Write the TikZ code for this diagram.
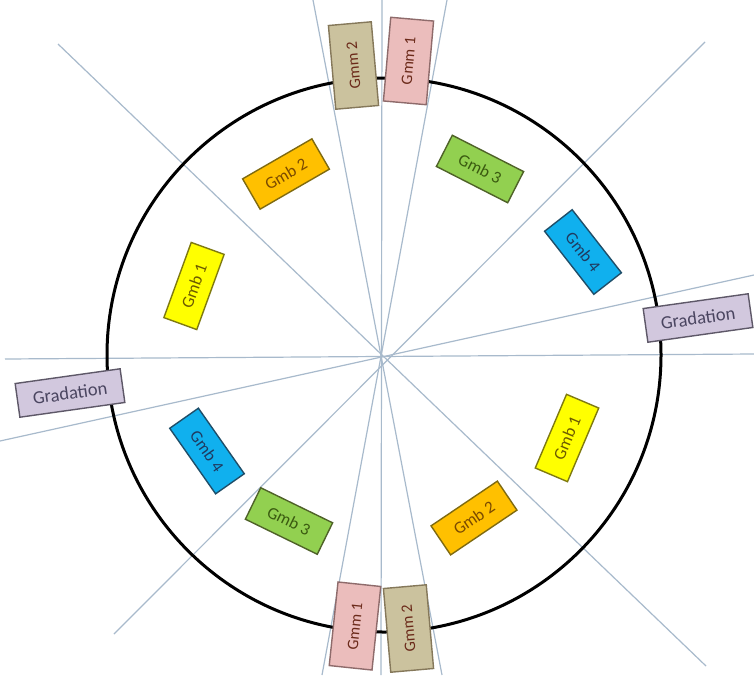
\documentclass[tikz,border=0pt]{standalone}
\usepackage{fontspec}
\setmainfont{Carlito}
\definecolor{ray}{HTML}{A8BACC}
\definecolor{gmmtan}{HTML}{CBC29E}
\definecolor{gmmtanbd}{HTML}{85785A}
\definecolor{gmmpink}{HTML}{EBBDBC}
\definecolor{gmmpinkbd}{HTML}{8E6B6B}
\definecolor{gradfill}{HTML}{D2C8DE}
\definecolor{gradbd}{HTML}{5E5868}
\definecolor{gradtxt}{HTML}{4A4560}
\definecolor{gorange}{HTML}{FFC000}
\definecolor{gorangebd}{HTML}{7F6A10}
\definecolor{gorangetx}{HTML}{7A4A00}
\definecolor{ggreen}{HTML}{92D050}
\definecolor{ggreenbd}{HTML}{4F6228}
\definecolor{ggreentx}{HTML}{3A5A10}
\definecolor{gyellow}{HTML}{FFFF00}
\definecolor{gyellowbd}{HTML}{7F7A10}
\definecolor{gyellowtx}{HTML}{6B5A00}
\definecolor{gblue}{HTML}{10B0EE}
\definecolor{gbluebd}{HTML}{1F4E69}
\definecolor{gbluetx}{HTML}{1F3A60}
\definecolor{gmmtx}{HTML}{6B2A1A}
\begin{document}
\begin{tikzpicture}[x=1pt,y=-1pt,
  rayline/.style={draw=ray,line width=1.2pt},
  gbox/.style={draw,line width=1.4pt,inner sep=0pt,minimum width=80pt,minimum height=35pt,font=\fontsize{17}{17}\selectfont},
  gmmbox/.style={draw,line width=1.4pt,inner sep=0pt,minimum width=84pt,minimum height=43pt,font=\fontsize{16}{16}\selectfont,text=gmmtx},
  gradbox/.style={draw=gradbd,fill=gradfill,text=gradtxt,line width=1.4pt,inner sep=0pt,minimum width=106pt,minimum height=34pt,font=\fontsize{18.5}{18.5}\selectfont},
  orangeb/.style={gbox,fill=gorange,draw=gorangebd,text=gorangetx},
  greenb/.style={gbox,fill=ggreen,draw=ggreenbd,text=ggreentx},
  yellowb/.style={gbox,fill=gyellow,draw=gyellowbd,text=gyellowtx},
  blueb/.style={gbox,fill=gblue,draw=gbluebd,text=gbluetx},
  tanb/.style={gmmbox,fill=gmmtan,draw=gmmtanbd},
  pinkb/.style={gmmbox,fill=gmmpink,draw=gmmpinkbd}]
\fill[white] (0,0) rectangle (754,675);
\useasboundingbox (0,0) rectangle (754,675);
% ray end points
\coordinate (c) at (381,357);
\coordinate (v1) at (382,0);   \coordinate (v2) at (381,675);
\coordinate (l1) at (313,0);   \coordinate (l2) at (442,675);
\coordinate (r1) at (447,0);   \coordinate (r2) at (322,675);
\coordinate (h1) at (5,359);   \coordinate (h2) at (754,354);
\coordinate (t1) at (754,275); \coordinate (t2) at (0,441);
\coordinate (d1) at (58,44);   \coordinate (d2) at (706,666);
\coordinate (e1) at (705,42);  \coordinate (e2) at (114,634);
\foreach \a/\b in {v1/v2,l1/l2,r1/r2,h1/h2,t1/t2,d1/d2,e1/e2}
  \draw[rayline] (\a) -- (\b);
% circle
\node[circle,draw=black,line width=3pt,minimum size=554pt,inner sep=0pt] (ring) at (384,355) {};
% Gmm boxes
\node[tanb,rotate=95]  (gmm2t) at (353.5,65.5) {Gmm 2};
\node[pinkb,rotate=85] (gmm1t) at (408.5,61) {Gmm 1};
\node[pinkb,rotate=84] (gmm1b) at (355,626) {Gmm 1};
\node[tanb,rotate=95]  (gmm2b) at (408.5,628.5) {Gmm 2};
% Gmb boxes
\node[orangeb,rotate=30]  (gmb2a) at (286,174) {Gmb 2};
\node[greenb,rotate=-27]  (gmb3a) at (480,169) {Gmb 3};
\node[yellowb,rotate=70]  (gmb1a) at (194,286) {Gmb 1};
\node[blueb,rotate=-52]   (gmb4a) at (583,252) {Gmb 4};
\node[blueb,rotate=-55]   (gmb4b) at (207,451) {Gmb 4};
\node[greenb,rotate=-26]  (gmb3b) at (289,521) {Gmb 3};
\node[orangeb,rotate=34]  (gmb2b) at (474,518) {Gmb 2};
\node[yellowb,rotate=67]  (gmb1b) at (567,438) {Gmb 1};
% Gradation boxes
\node[gradbox,rotate=8] (grr) at (698,318) {Gradation};
\node[gradbox,rotate=8] (grl) at (70,393) {Gradation};
\end{tikzpicture}
\end{document}
